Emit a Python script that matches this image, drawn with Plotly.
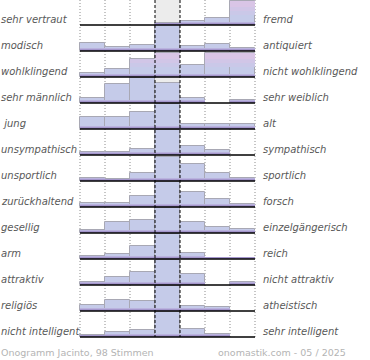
import plotly.graph_objects as go

# ---- data -------------------------------------------------------------
left_labels = ["sehr vertraut", "modisch", "wohlklingend", "sehr männlich",
               "\u00a0jung", "unsympathisch", "unsportlich", "zurückhaltend",
               "gesellig", "arm", "attraktiv", "religiös", "nicht intelligent"]
right_labels = ["fremd", "antiquiert", "nicht wohlklingend", "sehr weiblich",
                "alt", "sympathisch", "sportlich", "forsch", "einzelgängerisch",
                "reich", "nicht attraktiv", "atheistisch", "sehr intelligent"]

# share of votes per scale step (1..7), relative to row height
vertraut_fremd        = [0.00, 0.00, 0.00, 0.07, 0.14, 0.26, 0.93]
modisch_antiquiert    = [0.32, 0.17, 0.23, 1.00, 0.19, 0.27, 0.13]
wohlklingend_nicht    = [0.15, 0.30, 0.70, 0.91, 0.47, 0.91, 0.91]
maennlich_weiblich    = [0.20, 0.72, 0.95, 0.76, 0.20, 0.00, 0.13]
jung_alt              = [0.47, 0.47, 0.64, 0.95, 0.18, 0.18, 0.18]
unsympathisch_symp    = [0.12, 0.12, 0.25, 0.95, 0.35, 0.21, 0.00]
unsportlich_sportlich = [0.13, 0.08, 0.30, 0.93, 0.65, 0.30, 0.10]
zurueckhaltend_forsch = [0.16, 0.16, 0.43, 0.95, 0.56, 0.30, 0.10]
gesellig_einzelg      = [0.12, 0.41, 0.50, 0.95, 0.41, 0.23, 0.16]
arm_reich             = [0.12, 0.20, 0.50, 0.95, 0.23, 0.05, 0.05]
attraktiv_nicht       = [0.10, 0.30, 0.49, 0.95, 0.41, 0.00, 0.11]
religioes_atheistisch = [0.23, 0.41, 0.38, 0.95, 0.19, 0.17, 0.00]
intelligent_scale     = [0.06, 0.20, 0.27, 0.95, 0.32, 0.10, 0.00]

rows = [vertraut_fremd, modisch_antiquiert, wohlklingend_nicht,
        maennlich_weiblich, jung_alt, unsympathisch_symp,
        unsportlich_sportlich, zurueckhaltend_forsch, gesellig_einzelg,
        arm_reich, attraktiv_nicht, religioes_atheistisch, intelligent_scale]

footer_left = "Onogramm Jacinto, 98 Stimmen"
footer_right = "onomastik.com - 05 / 2025"

# style: bars drawn with a pink-tinted top
pink_bars = {(0, 6), (2, 2), (2, 3), (2, 5), (2, 6)}

# ---- figure -----------------------------------------------------------
W, H = 370, 360
n_rows = len(rows)
n_cols = 7


def band_trace(lo, hi, color, only=None, line=None):
    xs, bases, ys = [], [], []
    for i, row in enumerate(rows):
        for c, v in enumerate(row):
            if v <= 0:
                continue
            if only is not None and (i, c) not in only:
                continue
            top = min(v, hi)
            if top <= lo:
                continue
            xs.append(c + 0.5)
            bases.append(i + 1 - lo)
            ys.append(-(top - lo))
    return go.Bar(x=xs, y=ys, base=bases, width=1, marker_color=color,
                  marker_line=dict(width=line[0], color=line[1]) if line else dict(width=0),
                  hoverinfo="skip", showlegend=False)


fig = go.Figure()
# main bar
fig.add_trace(band_trace(0, 9, "#c5cbe9", line=(1, "#a8a8b4")))
# pink tint for marked bars
fig.add_trace(band_trace(0.40, 0.55, "#cac8e8", only=pink_bars))
fig.add_trace(band_trace(0.55, 0.70, "#d1c6e7", only=pink_bars))
fig.add_trace(band_trace(0.70, 0.99, "#d9c5e6", only=pink_bars))
# bottom purple shading
fig.add_trace(band_trace(0.0, 0.13, "#bab3de"))
fig.add_trace(band_trace(0.0, 0.07, "#a496cc"))

shapes = []
top_y = 1 / 26
# neutral column background
shapes.append(dict(type="rect", xref="x", yref="y", x0=3, x1=4, y0=top_y, y1=n_rows,
                   fillcolor="#ececec", line_width=0, layer="below"))
# dotted separators
for xv in [0, 1, 2, 5, 6, 7]:
    shapes.append(dict(type="line", xref="x", yref="y", x0=xv, x1=xv, y0=top_y, y1=n_rows,
                       line=dict(color="#8c8c8c", width=1, dash="1px,2px"), layer="below"))
# dashed neutral borders
for xv in [3, 4]:
    shapes.append(dict(type="line", xref="x", yref="y", x0=xv, x1=xv, y0=top_y, y1=n_rows,
                       line=dict(color="#000000", width=1, dash="3px,2px"), layer="above"))
# baselines
for i in range(n_rows):
    shapes.append(dict(type="line", xref="x", yref="y", x0=0, x1=n_cols, y0=i + 1, y1=i + 1,
                       line=dict(color="#000000", width=1.6), layer="above"))

annotations = []
lab_font = dict(family="DejaVu Sans", size=10, color="#585858")
for i in range(n_rows):
    ypos = i + 1 - 5.5 / 26
    annotations.append(dict(xref="paper", yref="y", x=-1 / W, y=ypos, xanchor="left",
                            yanchor="middle", text="<i>" + left_labels[i] + "</i>",
                            showarrow=False, font=lab_font))
    annotations.append(dict(xref="paper", yref="y", x=261 / W, y=ypos, xanchor="left",
                            yanchor="middle", text="<i>" + right_labels[i] + "</i>",
                            showarrow=False, font=lab_font))
foot_font = dict(family="DejaVu Sans", size=9.5, color="#b4b4b4")
annotations.append(dict(xref="paper", yref="paper", x=-1 / W, y=1 - 352 / H, xanchor="left",
                        yanchor="middle", text=footer_left, showarrow=False, font=foot_font))
annotations.append(dict(xref="paper", yref="paper", x=348 / W, y=1 - 352 / H, xanchor="right",
                        yanchor="middle", text=footer_right, showarrow=False, font=foot_font))

fig.update_layout(
    width=W, height=H, margin=dict(l=0, r=0, t=0, b=0),
    paper_bgcolor="white", plot_bgcolor="white",
    barmode="overlay", bargap=0,
    xaxis=dict(range=[-80 / 25, (W - 80) / 25], visible=False, fixedrange=True),
    yaxis=dict(range=[(H + 1) / 26, 1 / 26], visible=False, fixedrange=True),
    shapes=shapes, annotations=annotations, showlegend=False,
)

fig.write_html("out.html", config={"displayModeBar": False},
               post_script="document.body.style.margin='0';document.body.style.overflow='hidden';")
